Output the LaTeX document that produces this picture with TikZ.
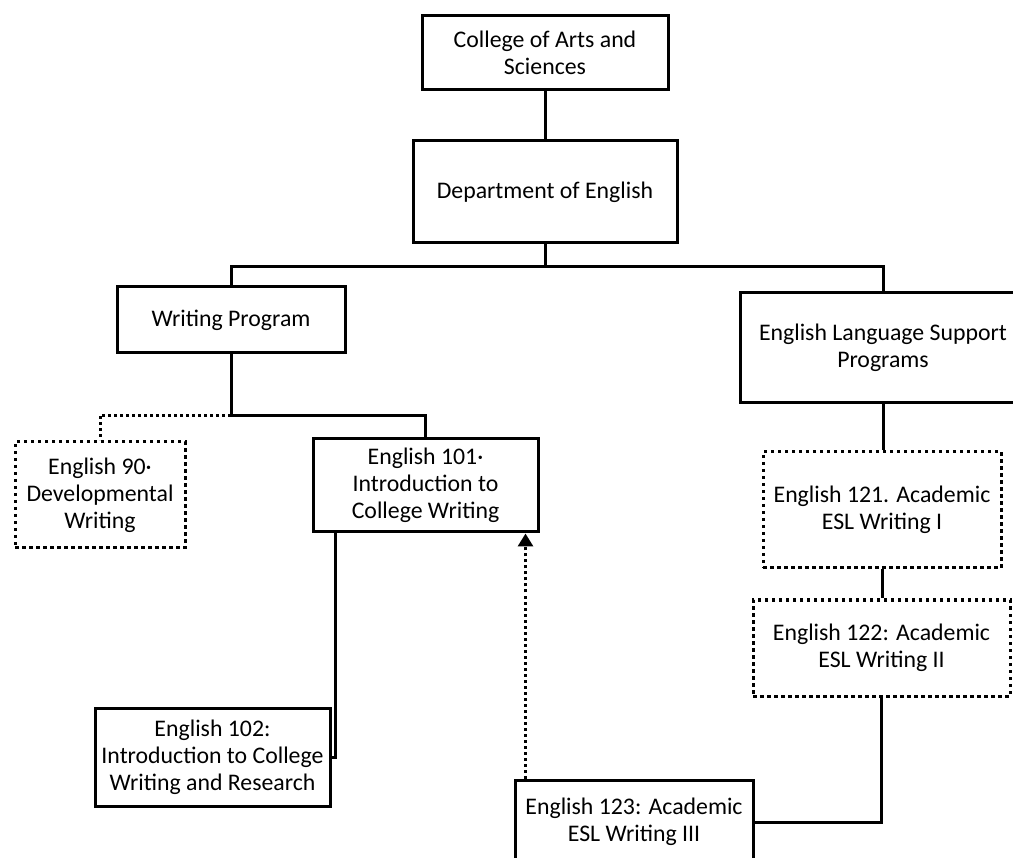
\documentclass[tikz,border=0pt]{standalone}
\usepackage{fontspec}
\setmainfont{Carlito}
\usetikzlibrary{arrows.meta}
\begin{document}
\begin{tikzpicture}[x=1pt,y=-1pt,
  box/.style={draw=black, line width=3pt, align=center, inner sep=0pt,
    font=\fontsize{23.8}{27}\selectfont, text=black},
  dotbox/.style={box, dash pattern=on 3.5pt off 3.5pt},
  link/.style={draw=black, line width=3pt},
  dotlink/.style={draw=black, line width=3pt, dash pattern=on 3pt off 3pt},
]
\useasboundingbox (0,0) rectangle (1013,858);
\fill[white] (0,0) rectangle (1013,858);
\clip (0,0) rectangle (1013,858);

\node[box, minimum width=246pt, minimum height=74pt] (college) at (545,53) {College of Arts and\\Sciences};
\node[box, minimum width=264pt, minimum height=102pt] (dept) at (545,192) {Department of English};
\node[box, minimum width=228pt, minimum height=66pt] (wp) at (231,320) {Writing Program};
\node[box, minimum width=286pt, minimum height=110pt] (elsp) at (883,348) {English Language Support\\Programs};
\node[dotbox, minimum width=170pt, minimum height=106pt] (e90) at (100,495) {English 90·\\Developmental\\Writing};
\node[box, minimum width=225pt, minimum height=93pt] (e101) at (425.5,485.5) {English 101·\\Introduction to\\College Writing};
\node[dotbox, minimum width=238pt, minimum height=116pt] (e121) at (882,510) {English 121. Academic\\ESL Writing I};
\node[dotbox, minimum width=257pt, minimum height=96pt] (e122) at (881.5,648) {English 122: Academic\\ESL Writing II};
\node[box, minimum width=235pt, minimum height=98pt] (e102) at (212.5,757) {English 102:\\Introduction to College\\Writing and Research};
\node[box, minimum width=238pt, minimum height=84pt] (e123) at (634,822) {English 123: Academic\\ESL Writing III};

\path (dept.south) ++(0,22) coordinate (dj);
\path (wp.south) ++(0,61) coordinate (wj);

\draw[link] (college) -- (dept);
\draw[link] (dept.south) -- (dj) -| (wp.north);
\draw[link] (dj) -| (elsp.north);
\draw[link] (wp.south) -- (wj) -| (e101.north);
\draw[dotlink] (wj) -| (e90.north);
\draw[link] (elsp.south) -- (elsp.south |- e121.north);
\draw[link] (e121.south) -- (e121.south |- e122.north);
\draw[link] (e122.south) |- (e123.east);
\draw[link] ([xshift=24pt]e101.south west) |- (e102.east);
\draw[dotlink, -{Triangle[width=15pt,length=13pt]}] ([xshift=12pt]e123.north west) -- ([xshift=12pt]e123.north west |- e101.south);
\end{tikzpicture}
\end{document}
